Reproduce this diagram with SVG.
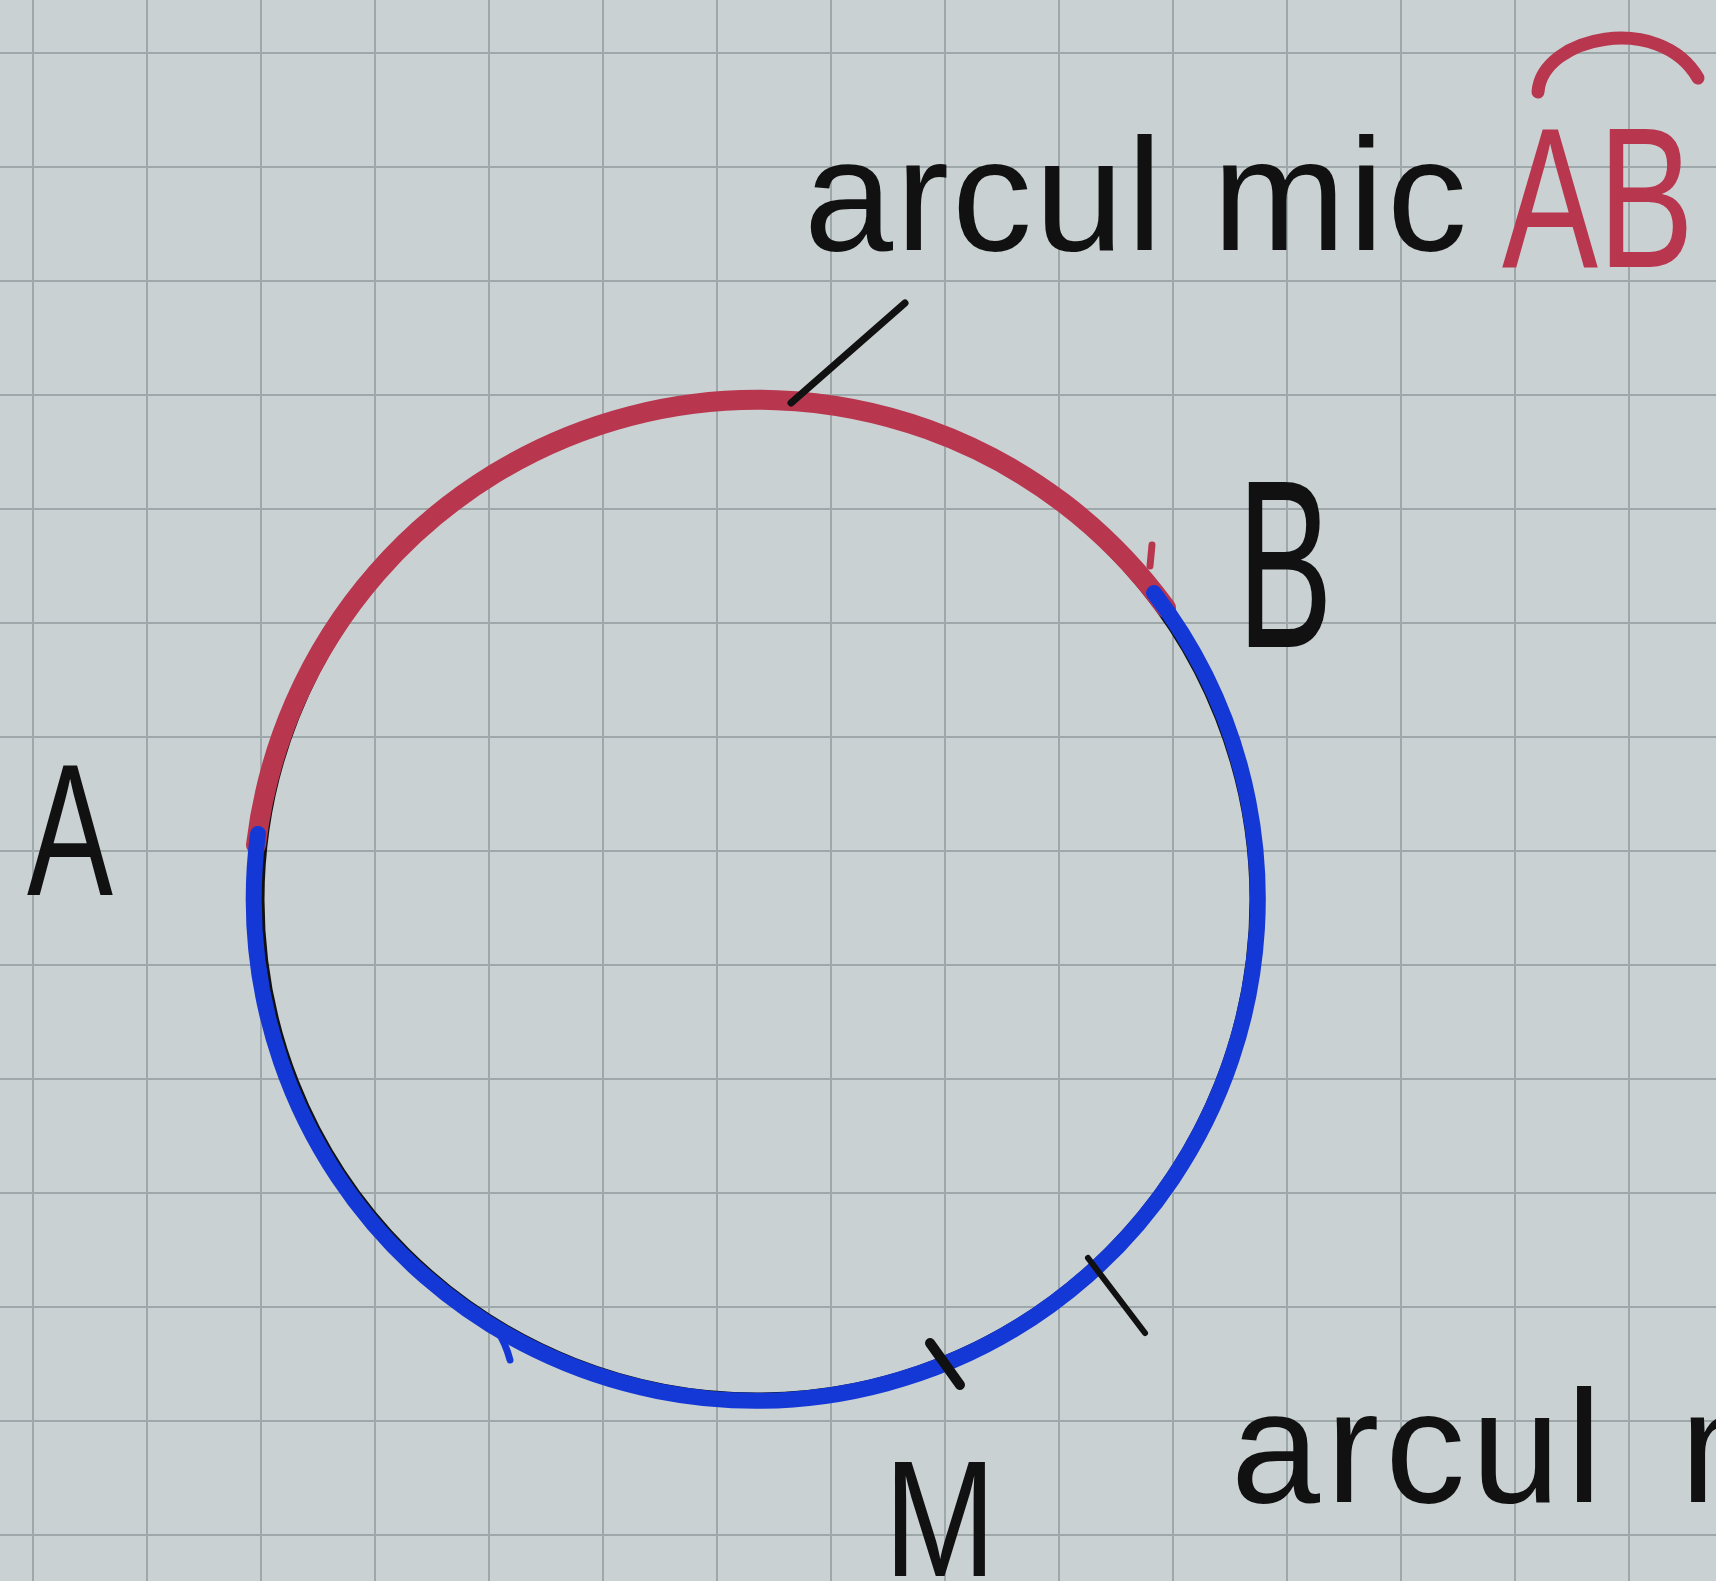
<svg xmlns="http://www.w3.org/2000/svg" width="1716" height="1581" viewBox="0 0 1716 1581">
<style>
.grid{stroke:#939c9f;stroke-width:2;fill:none;opacity:0.8}
.ink{fill:none;stroke:#111;stroke-linecap:round;stroke-linejoin:round}
.red{fill:none;stroke:#b9364f;stroke-linecap:round;stroke-linejoin:round}
.blue{fill:none;stroke:#1438d6;stroke-linecap:round;stroke-linejoin:round}
.txt{font-family:"Liberation Sans","DejaVu Sans",sans-serif;fill:#111}
.rtxt{font-family:"Liberation Sans","DejaVu Sans",sans-serif;fill:#b9364f}
</style>
<rect x="0" y="0" width="1716" height="1581" fill="#c9d1d3"/>
<g id="grid">
<path class="grid" d="M33 0V1581M147 0V1581M261 0V1581M375 0V1581M489 0V1581M603 0V1581M717 0V1581M831 0V1581M945 0V1581M1059 0V1581M1173 0V1581M1287 0V1581M1401 0V1581M1515 0V1581M1629 0V1581M0 53H1716M0 167H1716M0 281H1716M0 395H1716M0 509H1716M0 623H1716M0 737H1716M0 851H1716M0 965H1716M0 1079H1716M0 1193H1716M0 1307H1716M0 1421H1716M0 1535H1716"/>
</g>
<g id="circle">
<circle class="ink" cx="757" cy="900" r="495" stroke-width="5"/>
</g>
<g id="arc-mic">
<path class="red" stroke-width="20" d="M256 845 A505 505 0 0 1 1166 608"/>
<path class="red" stroke-width="7" d="M1152 545 L1150 566"/>
</g>
<g id="arc-mare">
<path class="blue" stroke-width="16" d="M1154 593 A502 502 0 1 1 258 834"/>
<path class="blue" stroke-width="7" d="M497 1330 Q506 1344 510 1360"/>
</g>
<g id="point-A">
<text class="txt" x="27" y="895" font-size="188" textLength="86" lengthAdjust="spacingAndGlyphs">A</text>
</g>
<g id="point-B">
<text class="txt" x="1237" y="647" font-size="240" textLength="96" lengthAdjust="spacingAndGlyphs">B</text>
</g>
<g id="point-M">
<path class="ink" stroke-width="10" d="M930 1343 L960 1385"/>
<text class="txt" x="884" y="1576" font-size="166" textLength="112" lengthAdjust="spacingAndGlyphs">M</text>
</g>
<g id="label-arc-mic">
<text class="txt" x="804" y="250" font-size="160" textLength="663" lengthAdjust="spacing">arcul mic</text>
<text class="rtxt" x="1502" y="267" font-size="200" textLength="192" lengthAdjust="spacingAndGlyphs">AB</text>
<path class="red" stroke-width="13" d="M1538 92 C1542 36 1660 12 1698 78"/>
</g>
<g id="label-arc-mare">
<path class="ink" stroke-width="6" d="M1088 1258 L1145 1333"/>
<text class="txt" x="1231" y="1502" font-size="160" letter-spacing="6">arcul<tspan x="1680" letter-spacing="0">m</tspan></text>
</g>
<g id="connectors">
<path class="ink" stroke-width="7" d="M905 303 L791 403"/>
</g>
</svg>
